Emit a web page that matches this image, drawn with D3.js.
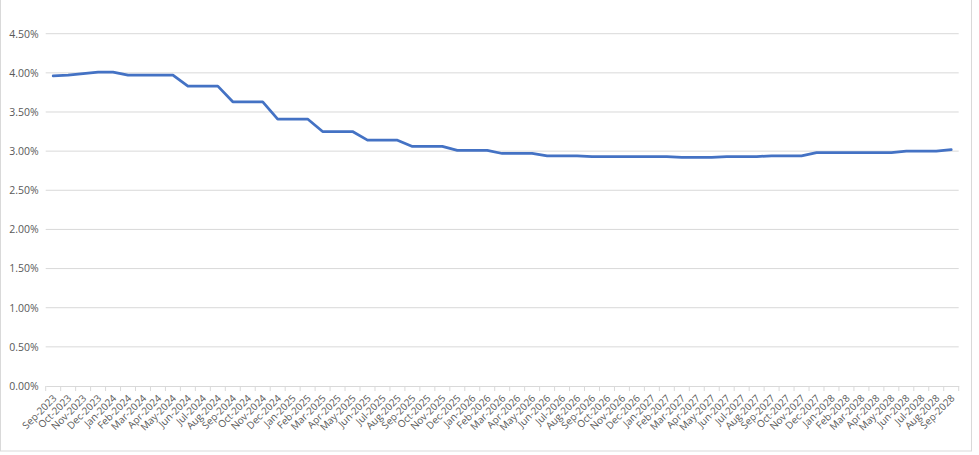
<!DOCTYPE html>
<html><head><meta charset="utf-8">
<script src="https://cdn.jsdelivr.net/npm/d3@7/dist/d3.min.js"></script>
<style>body{margin:0;background:#fff}svg{display:block}</style>
</head><body>
<svg id="c" width="979" height="455"></svg>
<script>
const months = ["Sep-2023","Oct-2023","Nov-2023","Dec-2023","Jan-2024","Feb-2024","Mar-2024","Apr-2024","May-2024","Jun-2024","Jul-2024","Aug-2024","Sep-2024","Oct-2024","Nov-2024","Dec-2024","Jan-2025","Feb-2025","Mar-2025","Apr-2025","May-2025","Jun-2025","Jul-2025","Aug-2025","Sep-2025","Oct-2025","Nov-2025","Dec-2025","Jan-2026","Feb-2026","Mar-2026","Apr-2026","May-2026","Jun-2026","Jul-2026","Aug-2026","Sep-2026","Oct-2026","Nov-2026","Dec-2026","Jan-2027","Feb-2027","Mar-2027","Apr-2027","May-2027","Jun-2027","Jul-2027","Aug-2027","Sep-2027","Oct-2027","Nov-2027","Dec-2027","Jan-2028","Feb-2028","Mar-2028","Apr-2028","May-2028","Jun-2028","Jul-2028","Aug-2028","Sep-2028"];
const rates = [3.96,3.97,3.99,4.01,4.01,3.97,3.97,3.97,3.97,3.83,3.83,3.83,3.63,3.63,3.63,3.41,3.41,3.41,3.25,3.25,3.25,3.14,3.14,3.14,3.06,3.06,3.06,3.01,3.01,3.01,2.97,2.97,2.97,2.94,2.94,2.94,2.93,2.93,2.93,2.93,2.93,2.93,2.92,2.92,2.92,2.93,2.93,2.93,2.94,2.94,2.94,2.98,2.98,2.98,2.98,2.98,2.98,3.00,3.00,3.00,3.02];
const yTicks = [0,0.5,1,1.5,2,2.5,3,3.5,4,4.5];

(function(){
const svg = d3.select("#c");
const font = "'Open Sans', 'Noto Sans', sans-serif";
const pl = 45.7, pr = 958.7, pt = 33.7, pb = 386;

svg.append("rect").attr("x",0.5).attr("y",-1).attr("width",971).attr("height",452)
  .attr("fill","#fff").attr("stroke","#d9d9d9").attr("stroke-width",1);

const x = d3.scaleBand().domain(months).range([pl,pr]).paddingInner(0).paddingOuter(0);
const y = d3.scaleLinear().domain([0,4.5]).range([pb,pt]);

svg.append("g").selectAll("line").data(yTicks.filter(d=>d>0)).join("line")
  .attr("x1",pl).attr("x2",pr).attr("y1",d=>y(d)).attr("y2",d=>y(d))
  .attr("stroke","#d9d9d9").attr("stroke-width",1);

const yAxis = d3.axisLeft(y).tickValues(yTicks).tickSize(0).tickPadding(7)
  .tickFormat(d=>d.toFixed(2)+"%");
const gy = svg.append("g").attr("transform",`translate(${pl},0)`).call(yAxis);
gy.select(".domain").remove();
gy.selectAll("text").attr("font-family",font).attr("font-size","10.5px").attr("fill","#595959");

const xAxis = d3.axisBottom(x).tickSize(0).tickFormat(d=>d);
const gx = svg.append("g").attr("transform",`translate(0,${pb})`).call(xAxis);
gx.select(".domain").attr("stroke","#d9d9d9");
gx.selectAll(".tick line").remove();
gx.selectAll(".tick text")
  .attr("font-family",font).attr("font-size","10px").attr("fill","#595959")
  .attr("text-anchor","end").attr("y",0).attr("dy",0)
  .attr("transform","translate(4,13) rotate(-45)");
const bounds = months.map(m=>x(m)).concat([pr]);
svg.append("g").selectAll("line").data(bounds).join("line")
  .attr("x1",d=>d).attr("x2",d=>d).attr("y1",pb).attr("y2",pb+5)
  .attr("stroke","#d9d9d9").attr("stroke-width",1);

const line = d3.line().x((d,i)=>x(months[i])+x.bandwidth()/2).y(d=>y(d));
svg.append("path").datum(rates).attr("d",line).attr("fill","none")
  .attr("stroke","#4472C4").attr("stroke-width",2.75).attr("stroke-linejoin","round").attr("stroke-linecap","round");
})();
</script>
</body></html>
